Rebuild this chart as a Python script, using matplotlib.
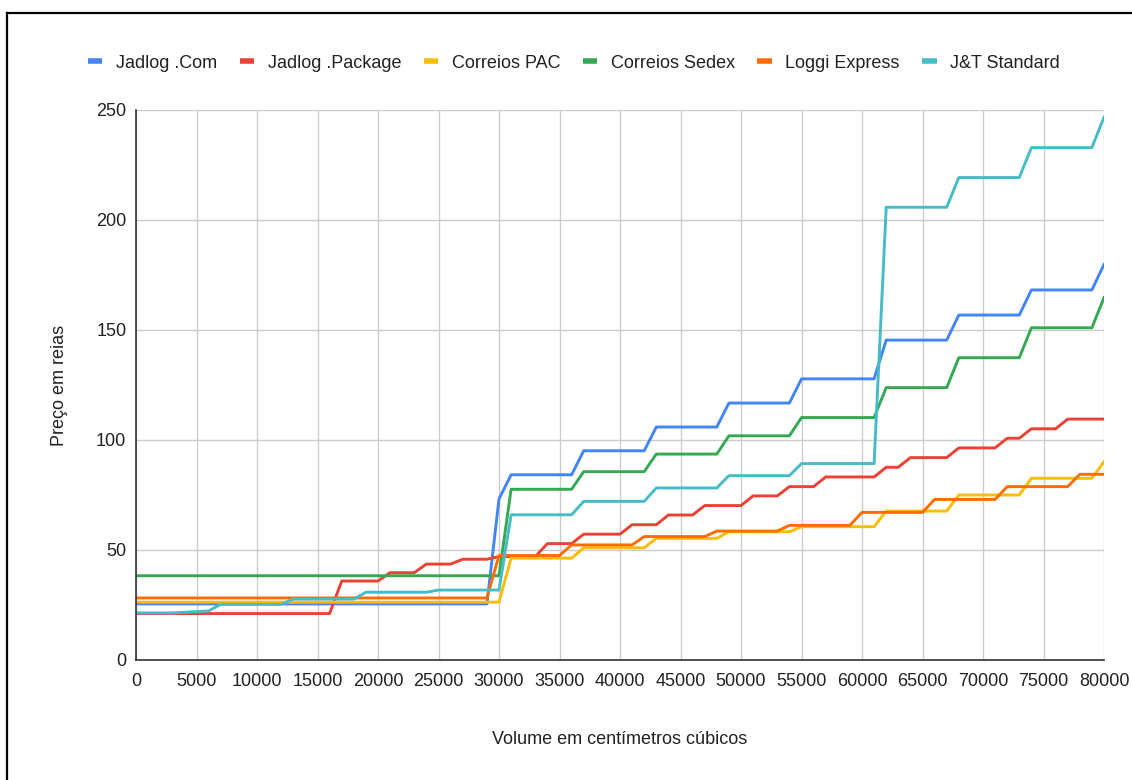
import matplotlib
matplotlib.use('Agg')
from matplotlib import pyplot as plt
from matplotlib.lines import Line2D

plt.rcParams['font.family'] = ['Liberation Sans', 'DejaVu Sans']

# volume in cm3, one point every 1000
volumes = list(range(0, 80001, 1000))

jadlog_com = [
    25.5, 25.5, 25.5, 25.5, 25.5, 25.5, 25.5, 25.5, 25.5, 25.5,
    25.5, 25.5, 25.5, 25.5, 25.5, 25.5, 25.5, 25.5, 25.5, 25.5,
    25.5, 25.5, 25.5, 25.5, 25.5, 25.5, 25.5, 25.5, 25.5, 25.5,
    73.2, 84.2, 84.2, 84.2, 84.2, 84.2, 84.2, 95.1, 95.1, 95.1,
    95.1, 95.1, 95.1, 105.9, 105.9, 105.9, 105.9, 105.9, 105.9, 116.8,
    116.8, 116.8, 116.8, 116.8, 116.8, 127.8, 127.8, 127.8, 127.8, 127.8,
    127.8, 127.8, 145.4, 145.4, 145.4, 145.4, 145.4, 145.4, 156.8, 156.8,
    156.8, 156.8, 156.8, 156.8, 168.2, 168.2, 168.2, 168.2, 168.2, 168.2,
    179.8]

jadlog_package = [
    21.1, 21.1, 21.1, 21.1, 21.1, 21.1, 21.1, 21.1, 21.1, 21.1,
    21.1, 21.1, 21.1, 21.1, 21.1, 21.1, 21.1, 35.9, 35.9, 35.9,
    35.9, 39.7, 39.7, 39.7, 43.6, 43.6, 43.6, 45.8, 45.8, 45.8,
    47.0, 47.0, 47.0, 47.0, 52.9, 52.9, 52.9, 57.2, 57.2, 57.2,
    57.2, 61.5, 61.5, 61.5, 65.9, 65.9, 65.9, 70.2, 70.2, 70.2,
    70.2, 74.6, 74.6, 74.6, 78.8, 78.8, 78.8, 83.2, 83.2, 83.2,
    83.2, 83.2, 87.6, 87.6, 92.0, 92.0, 92.0, 92.0, 96.4, 96.4,
    96.4, 96.4, 100.8, 100.8, 105.1, 105.1, 105.1, 109.5, 109.5, 109.5,
    109.5]

correios_pac = [
    26.3, 26.3, 26.3, 26.3, 26.3, 26.3, 26.3, 26.3, 26.3, 26.3,
    26.3, 26.3, 26.3, 26.3, 26.3, 26.3, 26.3, 26.3, 26.3, 26.3,
    26.3, 26.3, 26.3, 26.3, 26.3, 26.3, 26.3, 26.3, 26.3, 26.3,
    26.3, 46.3, 46.3, 46.3, 46.3, 46.3, 46.3, 51.0, 51.0, 51.0,
    51.0, 51.0, 51.0, 55.3, 55.3, 55.3, 55.3, 55.3, 55.3, 58.3,
    58.3, 58.3, 58.3, 58.3, 58.3, 60.6, 60.6, 60.6, 60.6, 60.6,
    60.6, 60.6, 67.7, 67.7, 67.7, 67.7, 67.7, 67.7, 75.0, 75.0,
    75.0, 75.0, 75.0, 75.0, 82.6, 82.6, 82.6, 82.6, 82.6, 82.6,
    90.1]

correios_sedex = [
    38.3, 38.3, 38.3, 38.3, 38.3, 38.3, 38.3, 38.3, 38.3, 38.3,
    38.3, 38.3, 38.3, 38.3, 38.3, 38.3, 38.3, 38.3, 38.3, 38.3,
    38.3, 38.3, 38.3, 38.3, 38.3, 38.3, 38.3, 38.3, 38.3, 38.3,
    38.3, 77.6, 77.6, 77.6, 77.6, 77.6, 77.6, 85.6, 85.6, 85.6,
    85.6, 85.6, 85.6, 93.6, 93.6, 93.6, 93.6, 93.6, 93.6, 101.9,
    101.9, 101.9, 101.9, 101.9, 101.9, 110.2, 110.2, 110.2, 110.2, 110.2,
    110.2, 110.2, 123.8, 123.8, 123.8, 123.8, 123.8, 123.8, 137.4, 137.4,
    137.4, 137.4, 137.4, 137.4, 151.0, 151.0, 151.0, 151.0, 151.0, 151.0,
    164.7]

loggi_express = [
    28.2, 28.2, 28.2, 28.2, 28.2, 28.2, 28.2, 28.2, 28.2, 28.2,
    28.2, 28.2, 28.2, 28.2, 28.2, 28.2, 28.2, 28.2, 28.2, 28.2,
    28.2, 28.2, 28.2, 28.2, 28.2, 28.2, 28.2, 28.2, 28.2, 28.2,
    47.5, 47.5, 47.5, 47.5, 47.5, 47.5, 52.3, 52.3, 52.3, 52.3,
    52.3, 52.3, 56.1, 56.1, 56.1, 56.1, 56.1, 56.1, 58.6, 58.6,
    58.6, 58.6, 58.6, 58.6, 61.2, 61.2, 61.2, 61.2, 61.2, 61.2,
    67.1, 67.1, 67.1, 67.1, 67.1, 67.1, 73.0, 73.0, 73.0, 73.0,
    73.0, 73.0, 78.8, 78.8, 78.8, 78.8, 78.8, 78.8, 84.4, 84.4,
    84.4]

jt_standard = [
    21.4, 21.4, 21.4, 21.4, 21.7, 22.0, 22.3, 25.3, 25.3, 25.3,
    25.3, 25.3, 25.3, 27.7, 27.7, 27.7, 27.7, 27.7, 27.7, 30.8,
    30.8, 30.8, 30.8, 30.8, 30.8, 31.8, 31.8, 31.8, 31.8, 31.8,
    31.8, 66.0, 66.0, 66.0, 66.0, 66.0, 66.0, 72.1, 72.1, 72.1,
    72.1, 72.1, 72.1, 78.2, 78.2, 78.2, 78.2, 78.2, 78.2, 83.8,
    83.8, 83.8, 83.8, 83.8, 83.8, 89.3, 89.3, 89.3, 89.3, 89.3,
    89.3, 89.3, 205.8, 205.8, 205.8, 205.8, 205.8, 205.8, 219.3, 219.3,
    219.3, 219.3, 219.3, 219.3, 232.9, 232.9, 232.9, 232.9, 232.9, 232.9,
    246.7]

names = ['Jadlog .Com', 'Jadlog .Package', 'Correios PAC',
         'Correios Sedex', 'Loggi Express', 'J&T Standard']
series = [jadlog_com, jadlog_package, correios_pac,
          correios_sedex, loggi_express, jt_standard]
colors = ['#4285F4', '#EA4335', '#FBBC04', '#34A853', '#FF6D01', '#46BDC6']

fig = plt.figure(figsize=(11.32, 7.80), dpi=100)
ax = fig.add_axes([136 / 1132, 120 / 780, 968 / 1132, 550 / 780])

for name, vals, c in zip(names, series, colors):
    ax.plot(volumes, vals, color=c, lw=2.1, label=name, solid_joinstyle='round')

ax.set_xlim(0, 80000)
ax.set_ylim(0, 250)
ax.set_xticks(range(0, 80001, 5000))
ax.set_yticks([0, 50, 100, 150, 200, 250])
ax.grid(True, color='#cccccc', lw=1.0)
ax.set_axisbelow(True)
for s in ['top', 'right']:
    ax.spines[s].set_visible(False)
for s in ['left', 'bottom']:
    ax.spines[s].set_color('#333333')
    ax.spines[s].set_linewidth(1.2)
ax.tick_params(length=0, labelsize=13, colors='#222222')
ax.tick_params(axis='x', pad=9)
ax.tick_params(axis='y', pad=7)

ax.set_xlabel('Volume em centímetros cúbicos', fontsize=13, color='#222222', labelpad=30)
ax.set_ylabel('Preço em reias', fontsize=13, color='#222222', labelpad=20)

handles = [Line2D([0], [0], color=c, lw=4, solid_capstyle='butt') for c in colors]
fig.legend(handles, names, loc='center', bbox_to_anchor=(574 / 1132, 1 - 63 / 780),
           ncol=6, frameon=False, fontsize=13, handlelength=0.8,
           handletextpad=0.75, columnspacing=1.25, labelcolor='#222222')

# outer frame (only top and left edges are visible in the original)
fig.add_artist(Line2D([7 / 1132, 1.0], [1 - 13 / 780, 1 - 13 / 780], color='black', lw=1.6))
fig.add_artist(Line2D([7 / 1132, 7 / 1132], [0.0, 1 - 13 / 780], color='black', lw=1.6))

fig.savefig('out.png', dpi=100)
